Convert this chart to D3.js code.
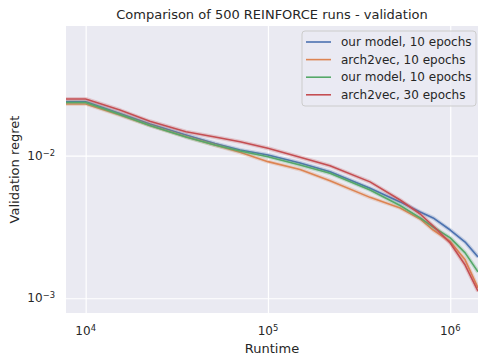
<!DOCTYPE html>
<html>
<head>
<meta charset="utf-8">
<script src="https://cdn.jsdelivr.net/npm/d3@7"></script>
<style>
  body { margin: 0; background: #fff; }
  text { font-family: "DejaVu Sans", sans-serif; fill: #262626; }
  .grid line { stroke: #fff; stroke-width: 1.2; }
  .grid path { display: none; }
  .line { fill: none; stroke-width: 1.6; stroke-linejoin: round; }
  .band { fill: none; stroke-width: 4; stroke-opacity: 0.25; stroke-linejoin: round; }
</style>
</head>
<body>
<svg id="chart"></svg>
<script>
var runtime = [7800, 10000, 15400, 22500, 35500, 51200, 70300, 100000, 150000, 219000, 363000, 531000, 684000, 806000, 1000000, 1207000, 1420000];

var ourModel10a = [0.02391, 0.02391, 0.01976, 0.01669, 0.01397, 0.01218, 0.01096, 0.01011, 0.00889, 0.00772, 0.00591, 0.00474, 0.00403, 0.00366, 0.00301, 0.00248, 0.00195];
var arch2vec10 = [0.02305, 0.02305, 0.01929, 0.01629, 0.01359, 0.01189, 0.01056, 0.00908, 0.00800, 0.00668, 0.00510, 0.00430, 0.00360, 0.00301, 0.00250, 0.00186, 0.00118];
var ourModel10b = [0.02360, 0.02360, 0.01945, 0.01629, 0.01353, 0.01189, 0.01079, 0.00984, 0.00861, 0.00753, 0.00575, 0.00447, 0.00366, 0.00316, 0.00265, 0.00208, 0.00153];
var arch2vec30 = [0.02498, 0.02498, 0.02091, 0.01743, 0.01473, 0.01353, 0.01254, 0.01127, 0.00975, 0.00850, 0.00655, 0.00489, 0.00390, 0.00321, 0.00244, 0.00171, 0.00112];

var seriesNames = ["our model, 10 epochs", "arch2vec, 10 epochs", "our model, 10 epochs", "arch2vec, 30 epochs"];
var seriesValues = [ourModel10a, arch2vec10, ourModel10b, arch2vec30];
var colors = ["#4C72B0", "#DD8452", "#55A868", "#C44E52"];

var xTicks = [1e4, 1e5, 1e6];
var yTicks = [1e-2, 1e-3];

var W = 478, H = 360;
var margin = {top: 26, right: 0, bottom: 47, left: 66};
var width = W - margin.left - margin.right,
    height = H - margin.top - margin.bottom;

var svg = d3.select("#chart")
    .attr("width", W)
    .attr("height", H);

var g = svg.append("g")
    .attr("transform", "translate(" + margin.left + "," + margin.top + ")");

var xScale = d3.scaleLog()
    .domain([7800, 1420000])
    .range([0, width]);

var yScale = d3.scaleLog()
    .domain([0.000788, 0.0812])
    .range([height, 0]);

g.append("rect")
    .attr("width", width)
    .attr("height", height)
    .attr("fill", "#EAEAF2");

g.append("clipPath").attr("id", "clip")
    .append("rect").attr("width", width).attr("height", height);

g.append("g")
    .attr("class", "grid")
    .attr("transform", "translate(0," + height + ")")
    .call(d3.axisBottom(xScale).tickValues(xTicks).tickSize(-height).tickFormat(""));

g.append("g")
    .attr("class", "grid")
    .call(d3.axisLeft(yScale).tickValues(yTicks).tickSize(-width).tickFormat(""));

// tick labels as 10 with superscript exponent
function powLabel(sel, exp) {
    sel.append("tspan").text("10");
    sel.append("tspan")
        .attr("dy", "-0.45em")
        .attr("font-size", "8.4px")
        .text(exp);
}

xTicks.forEach(function(t) {
    var txt = g.append("text")
        .attr("x", xScale(t))
        .attr("y", height + 22)
        .attr("text-anchor", "middle")
        .attr("font-size", "12px");
    powLabel(txt, String(Math.round(Math.log10(t))));
});

yTicks.forEach(function(t) {
    var txt = g.append("text")
        .attr("x", -11)
        .attr("y", yScale(t) + 4)
        .attr("text-anchor", "end")
        .attr("font-size", "12px");
    powLabel(txt, "\u2212" + String(Math.abs(Math.round(Math.log10(t)))));
});

var line = d3.line()
    .x(function(d, i) { return xScale(runtime[i]); })
    .y(function(d) { return yScale(d); });

var plot = g.append("g").attr("clip-path", "url(#clip)");

seriesValues.forEach(function(vals, k) {
    plot.append("path")
        .datum(vals)
        .attr("class", "band")
        .attr("stroke", colors[k])
        .attr("d", line);
    plot.append("path")
        .datum(vals)
        .attr("class", "line")
        .attr("stroke", colors[k])
        .attr("d", line);
});

// title and axis labels
svg.append("text")
    .attr("x", margin.left + width / 2)
    .attr("y", 19)
    .attr("text-anchor", "middle")
    .attr("font-size", "13px")
    .text("Comparison of 500 REINFORCE runs - validation");

svg.append("text")
    .attr("x", margin.left + width / 2)
    .attr("y", 353)
    .attr("text-anchor", "middle")
    .attr("font-size", "13px")
    .text("Runtime");

svg.append("text")
    .attr("transform", "translate(19," + (margin.top + height / 2) + ") rotate(-90)")
    .attr("text-anchor", "middle")
    .attr("font-size", "13px")
    .text("Validation regret");

// legend
var legend = svg.append("g").attr("transform", "translate(302,31)");

legend.append("rect")
    .attr("width", 174)
    .attr("height", 75)
    .attr("rx", 3)
    .attr("fill", "#EAEAF2")
    .attr("fill-opacity", 0.8)
    .attr("stroke", "#cccccc")
    .attr("stroke-width", 1);

seriesNames.forEach(function(name, k) {
    var yy = 11 + k * 17.6;
    legend.append("line")
        .attr("x1", 4).attr("x2", 29)
        .attr("y1", yy).attr("y2", yy)
        .attr("stroke", colors[k])
        .attr("stroke-width", 1.6);
    legend.append("text")
        .attr("x", 39)
        .attr("y", yy + 4)
        .attr("font-size", "12px")
        .text(name);
});
</script>
</body>
</html>
